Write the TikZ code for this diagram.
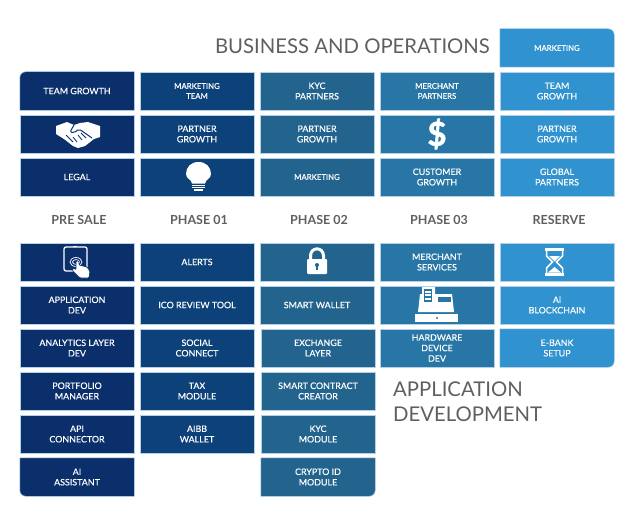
\documentclass[tikz,border=0pt]{standalone}
\usepackage{fontspec}
\setmainfont{Lato}
\newfontfamily\tileface{Lato}[FakeBold=0.3]
\newfontfamily\dollarface{Lato}[BoldFont={Lato Bold},FakeBold=1.6]
\usepackage{tikz}
\usetikzlibrary{backgrounds}
\definecolor{cPreSale}{HTML}{0B2F6B}
\definecolor{cPhaseOne}{HTML}{0C4279}
\definecolor{cPhaseTwo}{HTML}{22648E}
\definecolor{cPhaseThree}{HTML}{2876A6}
\definecolor{cReserve}{HTML}{3092CE}
\definecolor{cEdge}{HTML}{B4D2E6}
\definecolor{cHeading}{HTML}{5F5F5F}
\tikzstyle{fTile} = [rectangle, minimum width=114pt, minimum height=38pt, inner sep=0pt, align=center, text=white, draw=cEdge, line width=0.5pt, font=\tileface\fontsize{8.9}{10.5}\selectfont]
\tikzstyle{fSmall} = [font=\tileface\fontsize{7.8}{10}\selectfont]
\tikzstyle{fPreSale} = [fTile, fill=cPreSale]
\tikzstyle{fPhaseOne} = [fTile, fill=cPhaseOne]
\tikzstyle{fPhaseTwo} = [fTile, fill=cPhaseTwo]
\tikzstyle{fPhaseThree} = [fTile, fill=cPhaseThree]
\tikzstyle{fReserve} = [fTile, fill=cReserve]
\tikzstyle{fCorner} = [fill=none, draw=none]
\tikzstyle{fHeading} = [inner sep=0pt, text=cHeading, font=\fontsize{12.5}{15}\selectfont\bfseries]
\tikzstyle{fTitle} = [inner sep=0pt, align=left, text=cHeading, font=\fontsize{20.3}{25}\selectfont]

\begin{document}
\begin{tikzpicture}[x=1pt, y=-1pt, node distance=43pt]
    \useasboundingbox (0,0) rectangle (640,519);

    \node (teamgrowth) [fPreSale, fCorner] at (77,91) {TEAM GROWTH};
    \node (handshake) [fPreSale, below of=teamgrowth] {};
    \node (legal) [fPreSale, below of=handshake] {LEGAL};
    \node (presale) [fHeading, below of=legal, xshift=2pt] {PRE SALE};
    \node (tablet) [fPreSale, below of=presale, xshift=-2pt, yshift=1pt] {};
    \node (applicationdev) [fPreSale, below of=tablet] {APPLICATION\\DEV};
    \node (analyticslayer) [fPreSale, below of=applicationdev] {ANALYTICS LAYER\\DEV};
    \node (portfoliomanager) [fPreSale, below of=analyticslayer] {PORTFOLIO\\MANAGER};
    \node (apiconnector) [fPreSale, below of=portfoliomanager] {API\\CONNECTOR};
    \node (aiassistant) [fPreSale, fCorner, below of=apiconnector] {AI\\ASSISTANT};

    \node (marketingteam) [fPhaseOne, fSmall, right of=teamgrowth, xshift=77pt] {MARKETING\\TEAM};
    \node (partnergrowthone) [fPhaseOne, below of=marketingteam] {PARTNER\\GROWTH};
    \node (bulb) [fPhaseOne, below of=partnergrowthone] {};
    \node (phaseone) [fHeading, below of=bulb, xshift=2pt] {PHASE 01};
    \node (alerts) [fPhaseOne, below of=phaseone, xshift=-2pt, yshift=1pt] {ALERTS};
    \node (icoreview) [fPhaseOne, below of=alerts] {ICO REVIEW TOOL};
    \node (socialconnect) [fPhaseOne, below of=icoreview] {SOCIAL\\CONNECT};
    \node (taxmodule) [fPhaseOne, below of=socialconnect] {TAX\\MODULE};
    \node (aibbwallet) [fPhaseOne, below of=taxmodule] {AIBB\\WALLET};

    \node (kycpartners) [fPhaseTwo, right of=marketingteam, xshift=77pt] {KYC\\PARTNERS};
    \node (partnergrowthtwo) [fPhaseTwo, below of=kycpartners] {PARTNER\\GROWTH};
    \node (marketingtwo) [fPhaseTwo, fSmall, below of=partnergrowthtwo] {MARKETING};
    \node (phasetwo) [fHeading, below of=marketingtwo, xshift=2pt] {PHASE 02};
    \node (lock) [fPhaseTwo, below of=phasetwo, xshift=-2pt, yshift=1pt] {};
    \node (smartwallet) [fPhaseTwo, below of=lock] {SMART WALLET};
    \node (exchangelayer) [fPhaseTwo, below of=smartwallet, xshift=1pt] {EXCHANGE\\LAYER};
    \node (smartcontract) [fPhaseTwo, below of=exchangelayer] {SMART CONTRACT\\CREATOR};
    \node (kycmodule) [fPhaseTwo, below of=smartcontract] {KYC\\MODULE};
    \node (cryptoid) [fPhaseTwo, fCorner, below of=kycmodule] {CRYPTO ID\\MODULE};

    \node (merchantpartners) [fPhaseThree, fSmall, right of=kycpartners, xshift=77pt] {MERCHANT\\PARTNERS};
    \node (dollar) [fPhaseThree, below of=merchantpartners, font=\dollarface\fontsize{33}{33}\selectfont\bfseries] {\$};
    \node (customergrowth) [fPhaseThree, below of=dollar] {CUSTOMER\\GROWTH};
    \node (phasethree) [fHeading, below of=customergrowth, xshift=2pt] {PHASE 03};
    \node (merchantservices) [fPhaseThree, below of=phasethree, xshift=-2pt, yshift=1pt] {MERCHANT\\SERVICES};
    \node (register) [fPhaseThree, below of=merchantservices] {};
    \node (hardwaredevice) [fPhaseThree, below of=register] {HARDWARE\\DEVICE\\DEV};

    \node (teamgrowthres) [fReserve, right of=merchantpartners, xshift=77pt] {TEAM\\GROWTH};
    \node (marketingres) [fReserve, fSmall, fCorner, above of=teamgrowthres] {MARKETING};
    \node (partnergrowthres) [fReserve, below of=teamgrowthres] {PARTNER\\GROWTH};
    \node (globalpartners) [fReserve, below of=partnergrowthres] {GLOBAL\\PARTNERS};
    \node (reserve) [fHeading, below of=globalpartners, xshift=2pt] {RESERVE};
    \node (hourglass) [fReserve, below of=reserve, xshift=-2pt, yshift=1pt] {};
    \node (aiblockchain) [fReserve, below of=hourglass] {Ai\\BLOCKCHAIN};
    \node (ebank) [fReserve, fCorner, below of=aiblockchain] {E-BANK\\SETUP};

    \node (business) [fTitle, anchor=east] at (490,46) {BUSINESS AND OPERATIONS};
    \node (application) [fTitle, anchor=north west] at (393,382) {APPLICATION\\DEVELOPMENT};

    \begin{scope}[on background layer]
        \filldraw [fill=cPreSale, draw=cEdge, line width=0.5pt] (teamgrowth.south west) [rounded corners=6pt] -- (teamgrowth.north west) [sharp corners] -- (teamgrowth.north east) -- (teamgrowth.south east) -- cycle;
        \filldraw [fill=cPreSale, draw=cEdge, line width=0.5pt] (aiassistant.north west) [rounded corners=6pt] -- (aiassistant.south west) [sharp corners] -- (aiassistant.south east) -- (aiassistant.north east) -- cycle;
        \filldraw [fill=cPhaseTwo, draw=cEdge, line width=0.5pt] (cryptoid.north east) [rounded corners=6pt] -- (cryptoid.south east) [sharp corners] -- (cryptoid.south west) -- (cryptoid.north west) -- cycle;
        \filldraw [fill=cReserve, draw=cEdge, line width=0.5pt] (marketingres.north west) [rounded corners=6pt] -- (marketingres.north east) [sharp corners] -- (marketingres.south east) -- (marketingres.south west) -- cycle;
        \filldraw [fill=cReserve, draw=cEdge, line width=0.5pt] (ebank.north east) [rounded corners=6pt] -- (ebank.south east) [sharp corners] -- (ebank.south west) -- (ebank.north west) -- cycle;
    \end{scope}

    \begin{scope}[shift={(handshake.center)}]
        \fill [white] (-21,-8) -- (-10,-12) -- (-3,-9) -- (3,-11) -- (11,-12) -- (23,-8) -- (23,3) -- (17,5) -- (8,12) -- (1,14) -- (-4,12) -- (-13,5) -- (-21,0) -- cycle;
        \draw [cPreSale, line width=1pt, rounded corners=2pt] (-3,-9) -- (-7,-2) -- (-3,-1) -- (2,-5) -- (15,4);
        \draw [cPreSale, line width=0.8pt] (-11,1) -- (-8,4) (-8,4) -- (-4,8) (-4,3) -- (0,8) (1,1) -- (5,6) (4,-1) -- (9,4);
    \end{scope}

    \begin{scope}[shift={(bulb.center)}]
        \fill [white] (1.5,-15) .. controls (-6,-15) and (-11,-10) .. (-11,-3) .. controls (-11,2) and (-5.5,2) .. (-5,6.5) -- (8,6.5) .. controls (8.5,2) and (14,2) .. (14,-3) .. controls (14,-10) and (9,-15) .. (1.5,-15) -- cycle;
        \fill [white] (-5,7.6) rectangle (8,8.8);
        \fill [white] (-5,10) rectangle (8,11.2);
        \fill [white] (-3,12.4) rectangle (6,14);
    \end{scope}

    \begin{scope}[shift={(tablet.center)}]
        \draw [white, line width=1.3pt, rounded corners=2pt] (-13,-15) rectangle (10,9);
        \fill [white] (-4,-15.6) rectangle (0,-14.6);
        \draw [white, line width=0.7pt] (-1,0) ellipse (6pt and 4.5pt);
        \draw [white, line width=0.7pt] (-1,0) ellipse (3.5pt and 2.4pt);
        \filldraw [fill=white, draw=cPreSale, line width=0.7pt, rounded corners=1pt] (-1,-1) -- (2,-1) -- (2,3) -- (10,5) -- (13,9) -- (12,16) -- (3,16) -- (-5,8) -- (-3,6) -- (-1,8) -- cycle;
    \end{scope}

    \begin{scope}[shift={(lock.center)}]
        \draw [white, line width=3pt] (-6.5,-3) -- (-6.5,-6) .. controls (-6.5,-15.5) and (6.5,-15.5) .. (6.5,-6) -- (6.5,-3);
        \fill [white, rounded corners=1pt] (-10,-3) rectangle (10,12);
        \fill [cPhaseTwo] (0,3) circle (2pt);
        \fill [cPhaseTwo] (-1,3) rectangle (1,8);
    \end{scope}

    \begin{scope}[shift={(register.center)}]
        \fill [white] (-19,7) -- (-17,-11) -- (-15,-11) -- (-15,-18) -- (-2,-18) -- (-2,-11) -- (15,-11) -- (17,7) -- cycle;
        \fill [cPhaseThree] (-13,-16.5) rectangle (-5,-3.5);
        \fill [white] (-12,-14.5) rectangle (-6,-12.5);
        \fill [white] (-12,-11) rectangle (-6,-9);
        \fill [white] (-12,-7.5) rectangle (-6,-5.5);
        \fill [cPhaseThree] (1,-8) rectangle (14,-3.5);
        \fill [white] (-22,9) rectangle (21,17);
        \fill [cPhaseThree] (0,13) circle (1.2pt);
    \end{scope}

    \begin{scope}[shift={(hourglass.center)}]
        \fill [white] (-12,-14) rectangle (7,-11);
        \fill [white] (-12,11) rectangle (7,14);
        \draw [white, line width=1.5pt] (-10.5,-11) -- (-10.5,-6) -- (-4.5,0) -- (-10.5,6) -- (-10.5,11);
        \draw [white, line width=1.5pt] (5.5,-11) -- (5.5,-6) -- (-0.5,0) -- (5.5,6) -- (5.5,11);
        \fill [white] (-8,-6) -- (3,-6) -- (-2.5,-0.5) -- cycle;
        \fill [white] (-9,10.5) -- (-2.5,5) -- (4,10.5) -- cycle;
    \end{scope}
\end{tikzpicture}
\end{document}
